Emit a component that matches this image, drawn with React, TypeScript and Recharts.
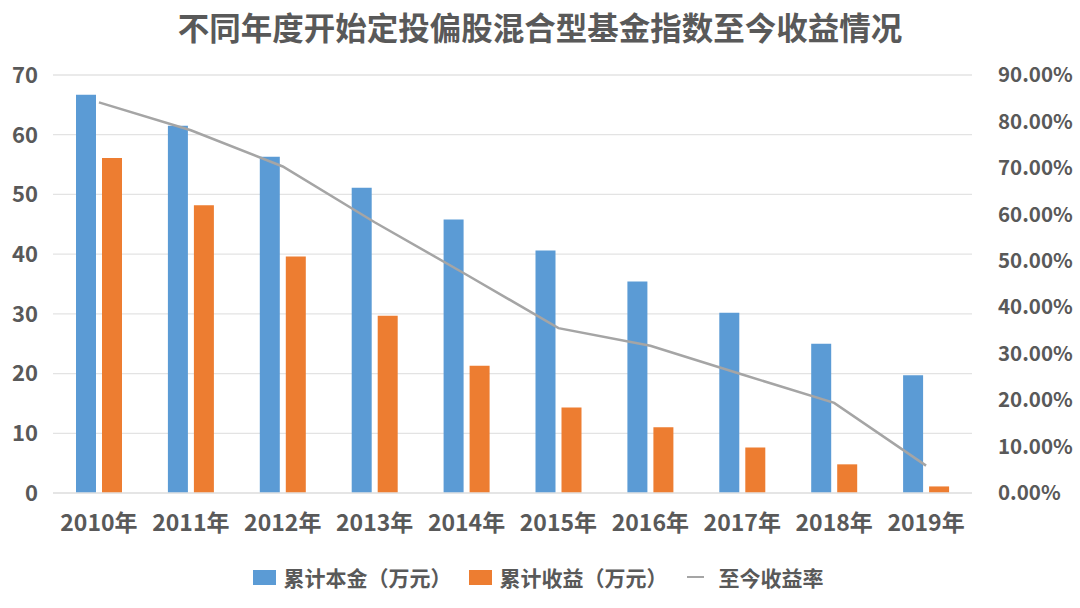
import React from 'react';
import { ComposedChart, Bar, Line, XAxis, YAxis, CartesianGrid, Legend } from 'recharts';

const years = ['2010年', '2011年', '2012年', '2013年', '2014年', '2015年', '2016年', '2017年', '2018年', '2019年'];
const principal = [66.7, 61.5, 56.3, 51.1, 45.8, 40.6, 35.4, 30.2, 25.0, 19.7];
const profit = [56.1, 48.2, 39.6, 29.7, 21.3, 14.3, 11.0, 7.6, 4.8, 1.1];
const returnRate = [0.841, 0.781, 0.703, 0.583, 0.47, 0.355, 0.317, 0.255, 0.194, 0.059];
const leftTicks = [0, 10, 20, 30, 40, 50, 60, 70];
const rightTicks = [0, 0.1, 0.2, 0.3, 0.4, 0.5, 0.6, 0.7, 0.8, 0.9];

const data = years.map((year, i) => ({
  year,
  principal: principal[i],
  profit: profit[i],
  rate: returnRate[i],
}));

const FONT = '"Noto Sans CJK SC", "Noto Sans", sans-serif';
const TEXT = '#595959';
const BLUE = '#5B9BD5';
const ORANGE = '#ED7D31';
const GRAY = '#A5A5A5';

const legendItems = [
  { label: '累计本金（万元）', color: BLUE, type: 'rect' },
  { label: '累计收益（万元）', color: ORANGE, type: 'rect' },
  { label: '至今收益率', color: GRAY, type: 'line' },
];

const renderLegend = () => (
  <div style={{ display: 'flex', justifyContent: 'center', alignItems: 'center', height: 30, paddingRight: 4, fontFamily: FONT, fontWeight: 700, fontSize: 21, color: TEXT }}>
    {legendItems.map((item, i) => (
      <div key={item.label} style={{ display: 'flex', alignItems: 'center', marginRight: i < legendItems.length - 1 ? 17 : 0 }}>
        {item.type === 'rect' ? (
          <span style={{ display: 'inline-block', flexShrink: 0, width: 23, height: 15, background: item.color, marginRight: 8 }} />
        ) : (
          <span style={{ display: 'inline-block', flexShrink: 0, width: 17, height: 2, background: item.color, marginLeft: 2, marginRight: 15 }} />
        )}
        <span style={{ whiteSpace: 'nowrap' }}>{item.label}</span>
      </div>
    ))}
  </div>
);

export default function App() {
  return (
    <div style={{ position: 'absolute', left: 0, top: 0, width: 1080, height: 608, background: '#fff' }}>
      <div
        style={{
          position: 'absolute',
          top: 6,
          left: 0,
          width: 1080,
          textAlign: 'center',
          fontFamily: FONT,
          fontWeight: 700,
          fontSize: 31.5,
          lineHeight: '40px',
          color: TEXT,
        }}
      >
        不同年度开始定投偏股混合型基金指数至今收益情况
      </div>
      <ComposedChart width={1080} height={608} data={data} margin={{ top: 75, right: 0, bottom: 16, left: 0 }} barGap={6}>
        <CartesianGrid vertical={false} stroke="#e3e3e3" strokeWidth={1.3} yAxisId="left" />
        <XAxis
          dataKey="year"
          axisLine={{ stroke: '#e3e3e3', strokeWidth: 1.3 }}
          tickLine={false}
          tickSize={0}
          tickMargin={22}
          height={69}
          interval={0}
          tick={{ fill: TEXT, fontSize: 23, fontWeight: 700, fontFamily: FONT }}
        />
        <YAxis
          yAxisId="left"
          width={53}
          domain={[0, 70]}
          ticks={leftTicks}
          axisLine={false}
          tickLine={false}
          tickSize={0}
          tickMargin={15}
          tick={{ fill: TEXT, fontSize: 22, fontWeight: 700, fontFamily: FONT }}
        />
        <YAxis
          yAxisId="right"
          orientation="right"
          width={108}
          domain={[0, 0.9]}
          ticks={rightTicks}
          axisLine={false}
          tickLine={false}
          tickSize={0}
          tickMargin={26}
          tickFormatter={(v: number) => `${(v * 100).toFixed(2)}%`}
          tick={{ fill: TEXT, fontSize: 20.5, fontWeight: 700, fontFamily: FONT }}
        />
        <Bar yAxisId="left" dataKey="principal" name="累计本金（万元）" fill={BLUE} barSize={20} isAnimationActive={false} />
        <Bar yAxisId="left" dataKey="profit" name="累计收益（万元）" fill={ORANGE} barSize={20} isAnimationActive={false} />
        <Line
          yAxisId="right"
          dataKey="rate"
          name="至今收益率"
          stroke={GRAY}
          strokeWidth={2.5}
          dot={false}
          type="linear"
          isAnimationActive={false}
        />
        <Legend verticalAlign="bottom" content={renderLegend} />
      </ComposedChart>
    </div>
  );
}
